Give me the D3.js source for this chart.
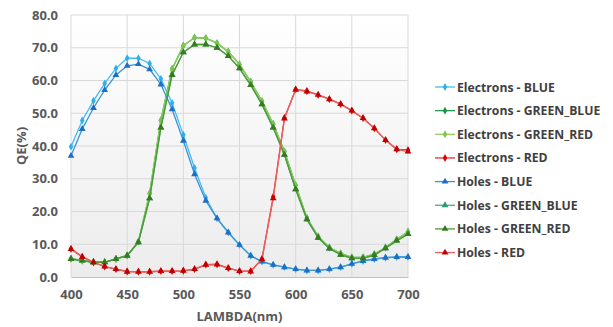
<!DOCTYPE html>
<html>
<head>
<meta charset="utf-8">
<script src="https://cdn.jsdelivr.net/npm/d3@7"></script>
<style>
  body { margin: 0; background: #fff; }
  text { font-family: "Open Sans", "Liberation Sans", sans-serif; font-weight: 700; }
</style>
</head>
<body>
<svg id="chart" width="613" height="327"></svg>
<script>
// wavelengths (nm)
const lambda = d3.range(400, 701, 10);

const elecBlue = [39.8, 47.8, 53.8, 59.1, 63.7, 66.8, 66.8, 65.2, 60.5, 53.1, 43.4, 33.3, 24.2, 17.9, 13.6, 9.8, 6.5, 4.7, 3.7, 3.0, 2.4, 2.0, 2.0, 2.4, 3.0, 4.0, 4.9, 5.5, 5.9, 6.1, 6.1];
const elecGreenBlue = [5.6, 5.0, 4.5, 4.5, 5.5, 6.6, 10.8, 25.5, 47.9, 63.5, 70.6, 73.1, 72.9, 71.4, 68.8, 64.9, 59.6, 53.7, 46.7, 38.3, 28.0, 18.0, 12.4, 9.0, 7.2, 6.0, 6.0, 7.0, 9.0, 11.5, 13.8];
const elecGreenRed = [5.6, 5.0, 4.5, 4.5, 5.5, 6.6, 10.8, 25.5, 47.9, 63.5, 70.6, 73.1, 72.9, 71.4, 68.8, 64.9, 59.6, 53.7, 46.7, 38.3, 28.0, 18.0, 12.4, 9.0, 7.2, 6.0, 6.0, 7.0, 9.0, 11.5, 13.8];
const elecRed = [8.6, 6.2, 4.5, 3.2, 2.4, 1.7, 1.6, 1.6, 1.8, 1.8, 1.9, 2.4, 3.8, 3.9, 2.7, 1.8, 1.8, 5.5, 24.5, 48.6, 57.3, 56.8, 55.6, 54.3, 52.8, 50.8, 48.5, 45.4, 41.8, 39.0, 38.8];
const holesBlue = [37.0, 45.2, 51.6, 57.1, 61.7, 64.5, 65.0, 63.4, 58.8, 51.2, 41.6, 31.4, 23.3, 17.9, 13.6, 9.8, 6.5, 4.7, 3.7, 3.0, 2.4, 2.0, 2.0, 2.4, 3.0, 4.0, 4.9, 5.5, 5.9, 6.1, 6.1];
const holesGreenBlue = [5.5, 5.0, 4.5, 4.5, 5.5, 6.5, 10.6, 24.0, 45.6, 61.7, 68.6, 71.0, 71.0, 70.0, 67.5, 63.7, 58.6, 52.7, 45.6, 37.3, 26.8, 17.6, 12.0, 8.7, 6.8, 5.7, 5.7, 6.7, 8.8, 11.1, 13.1];
const holesGreenRed = [5.5, 5.0, 4.5, 4.5, 5.5, 6.5, 10.6, 24.0, 45.6, 61.7, 68.6, 71.0, 71.0, 70.0, 67.5, 63.7, 58.6, 52.7, 45.6, 37.3, 26.8, 17.6, 12.0, 8.7, 6.8, 5.7, 5.7, 6.7, 8.8, 11.1, 13.1];
const holesRed = [8.5, 6.1, 4.5, 3.2, 2.4, 1.6, 1.6, 1.6, 1.8, 1.8, 1.9, 2.4, 3.7, 3.8, 2.7, 1.8, 1.7, 5.4, 24.0, 48.4, 57.2, 56.6, 55.6, 54.3, 52.8, 50.8, 48.5, 45.4, 41.8, 39.0, 38.3];

const xTicks = [400, 450, 500, 550, 600, 650, 700];
const yTicks = [0, 10, 20, 30, 40, 50, 60, 70, 80];

const series = [
  { name: "Electrons - BLUE", values: elecBlue, line: "#45bdf0", mark: "#2fb0ea", shape: "diamond" },
  { name: "Electrons - GREEN_BLUE", values: elecGreenBlue, line: "#1fa04e", mark: "#17944a", shape: "diamond" },
  { name: "Electrons - GREEN_RED", values: elecGreenRed, line: "#8fd05a", mark: "#7cc64a", shape: "diamond" },
  { name: "Electrons - RED", values: elecRed, line: "#ee2a2a", mark: "#e00000", shape: "diamond" },
  { name: "Holes - BLUE", values: holesBlue, line: "#3a92d8", mark: "#1c6fc4", shape: "triangle" },
  { name: "Holes - GREEN_BLUE", values: holesGreenBlue, line: "#48aa88", mark: "#2f9a70", shape: "triangle" },
  { name: "Holes - GREEN_RED", values: holesGreenRed, line: "#4f9a30", mark: "#3a7a1e", shape: "triangle" },
  { name: "Holes - RED", values: holesRed, line: "#e86060", mark: "#c00000", shape: "triangle" }
];

const svg = d3.select("#chart");
const plotL = 71, plotR = 408, plotT = 15, plotB = 277;

const x = d3.scaleLinear().domain([400, 700]).range([plotL, plotR]);
const y = d3.scaleLinear().domain([0, 80]).range([plotB, plotT]);

// plot background gradient
const grad = svg.append("defs").append("linearGradient")
  .attr("id", "bg").attr("x1", 0).attr("y1", 0).attr("x2", 0).attr("y2", 1);
grad.append("stop").attr("offset", "0%").attr("stop-color", "#ffffff");
grad.append("stop").attr("offset", "100%").attr("stop-color", "#ececec");

svg.append("rect")
  .attr("x", plotL).attr("y", plotT)
  .attr("width", plotR - plotL).attr("height", plotB - plotT)
  .attr("fill", "url(#bg)");

// gridlines
svg.append("g")
  .selectAll("line")
  .data(yTicks.filter(d => d > 0))
  .enter().append("line")
    .attr("x1", plotL).attr("x2", plotR)
    .attr("y1", d => y(d)).attr("y2", d => y(d))
    .attr("stroke", "#d9d9d9").attr("stroke-width", 1);

svg.append("g")
  .selectAll("line")
  .data(xTicks)
  .enter().append("line")
    .attr("x1", d => x(d)).attr("x2", d => x(d))
    .attr("y1", plotT).attr("y2", plotB)
    .attr("stroke", "#d9d9d9").attr("stroke-width", 1);

// x axis
const xAxis = svg.append("g")
  .attr("transform", "translate(0," + plotB + ")")
  .call(d3.axisBottom(x).tickValues(xTicks).tickSize(0).tickPadding(13).tickFormat(d3.format("d")));
xAxis.select(".domain").attr("stroke", "#bfbfbf");
xAxis.selectAll("text").attr("fill", "#595959").style("font-size", "13px")
  .style("font-family", "'Open Sans', sans-serif").style("font-weight", 700);

// y axis
const yAxis = svg.append("g")
  .attr("transform", "translate(" + plotL + ",0)")
  .call(d3.axisLeft(y).tickValues(yTicks).tickSize(0).tickPadding(13).tickFormat(d3.format(".1f")));
yAxis.select(".domain").remove();
yAxis.selectAll("text").attr("fill", "#595959").style("font-size", "13px")
  .style("font-family", "'Open Sans', sans-serif").style("font-weight", 700);

// axis titles
svg.append("text")
  .attr("x", (plotL + plotR) / 2).attr("y", 321)
  .attr("text-anchor", "middle")
  .attr("fill", "#595959").style("font-size", "13px")
  .text("LAMBDA(nm)");

svg.append("text")
  .attr("transform", "translate(26," + ((plotT + plotB) / 2) + ") rotate(-90)")
  .attr("text-anchor", "middle")
  .attr("fill", "#595959").style("font-size", "13px")
  .text("QE(%)");

const symDiamond = d3.symbol().type(d3.symbolDiamond).size(18);
const symTriangle = d3.symbol().type(d3.symbolTriangle).size(20);

const line = d3.line()
  .x((d, i) => x(lambda[i]))
  .y(d => y(d));

// series
series.forEach(s => {
  const g = svg.append("g");
  g.append("path")
    .datum(s.values)
    .attr("fill", "none")
    .attr("stroke", s.line)
    .attr("stroke-width", 1.3)
    .attr("d", line);
  g.selectAll("path.m")
    .data(s.values)
    .enter().append("path")
      .attr("class", "m")
      .attr("transform", (d, i) => "translate(" + x(lambda[i]) + "," + y(d) + ")")
      .attr("d", s.shape === "diamond" ? symDiamond : symTriangle)
      .attr("fill", s.mark);
});

// legend
const legend = svg.append("g");
series.forEach((s, i) => {
  const ly = 87 + i * 23.65;
  legend.append("line")
    .attr("x1", 435).attr("x2", 455).attr("y1", ly).attr("y2", ly)
    .attr("stroke", s.line).attr("stroke-width", 1.3);
  legend.append("path")
    .attr("transform", "translate(445," + ly + ")")
    .attr("d", s.shape === "diamond" ? symDiamond : symTriangle)
    .attr("fill", s.mark);
  legend.append("text")
    .attr("x", 457).attr("y", ly + 4.5)
    .attr("fill", "#404040").style("font-size", "12.2px")
    .text(s.name);
});
</script>
</body>
</html>
